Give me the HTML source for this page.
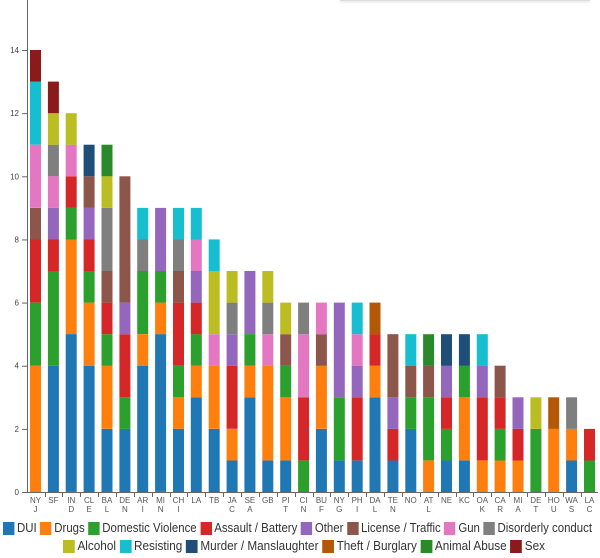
<!DOCTYPE html>
<html><head><meta charset="utf-8"><style>
html,body{margin:0;padding:0;background:#fff;width:600px;height:558px;overflow:hidden;font-family:"Liberation Sans",Arial,sans-serif}
.row{position:absolute;display:inline-flex;font-size:13px;color:#333;line-height:16px;white-space:nowrap;transform-origin:0 0}
.it{display:flex;align-items:center;margin-right:4px}
.sw{width:13px;height:13px;margin-right:3px}
</style></head><body>
<div style="position:absolute;left:340px;top:0;width:250px;height:1px;background:#ddd;box-shadow:0 1px 2px #ccc"></div>
<svg id="c" width="600" height="518" style="position:absolute;left:0;top:0"></svg>
<div class="row" id="r1" style="top:520px;left:3px"></div>
<div class="row" id="r2" style="top:538px;left:63px"></div>
<script>
var cats=[["DUI","#1f77b4"],["Drugs","#ff7f0e"],["Domestic Violence","#2ca02c"],["Assault / Battery","#d62728"],["Other","#9467bd"],["License / Traffic","#8c564b"],["Gun","#e377c2"],["Disorderly conduct","#7f7f7f"],["Alcohol","#bcbd22"],["Resisting","#17becf"],["Murder / Manslaughter","#1f4e79"],["Theft / Burglary","#b35806"],["Animal Abuse","#2a8a2a"],["Sex","#8b1a1a"]];
var d=[
["NY","J",[0,4,2,2,0,1,2,0,0,2,0,0,0,1]],
["SF","",[4,0,3,1,1,0,1,1,1,0,0,0,0,1]],
["IN","D",[5,3,1,1,0,0,1,0,1,0,0,0,0,0]],
["CL","E",[4,2,1,1,1,1,0,0,0,0,1,0,0,0]],
["BA","L",[2,2,1,1,0,1,0,2,1,0,0,0,1,0]],
["DE","N",[2,0,1,2,1,4,0,0,0,0,0,0,0,0]],
["AR","I",[4,1,2,0,0,0,0,1,0,1,0,0,0,0]],
["MI","N",[5,1,1,0,2,0,0,0,0,0,0,0,0,0]],
["CH","I",[2,1,1,2,0,1,0,1,0,1,0,0,0,0]],
["LA","",[3,1,1,1,1,0,1,0,0,1,0,0,0,0]],
["TB","",[2,2,0,0,0,0,1,0,2,1,0,0,0,0]],
["JA","C",[1,1,0,2,1,0,0,1,1,0,0,0,0,0]],
["SE","A",[3,1,1,0,2,0,0,0,0,0,0,0,0,0]],
["GB","",[1,3,0,0,0,0,1,1,1,0,0,0,0,0]],
["PI","T",[1,2,1,0,0,1,0,0,1,0,0,0,0,0]],
["CI","N",[0,0,1,2,0,0,2,1,0,0,0,0,0,0]],
["BU","F",[2,2,0,0,0,1,1,0,0,0,0,0,0,0]],
["NY","G",[1,0,2,0,3,0,0,0,0,0,0,0,0,0]],
["PH","I",[1,0,0,2,1,0,1,0,0,1,0,0,0,0]],
["DA","L",[3,1,0,1,0,0,0,0,0,0,0,1,0,0]],
["TE","N",[1,0,0,1,1,2,0,0,0,0,0,0,0,0]],
["NO","",[2,0,1,0,0,1,0,0,0,1,0,0,0,0]],
["AT","L",[0,1,2,0,0,1,0,0,0,0,0,0,1,0]],
["NE","",[1,0,1,1,1,0,0,0,0,0,1,0,0,0]],
["KC","",[1,2,1,0,0,0,0,0,0,0,1,0,0,0]],
["OA","K",[0,1,0,2,1,0,0,0,0,1,0,0,0,0]],
["CA","R",[0,1,1,1,0,1,0,0,0,0,0,0,0,0]],
["MI","A",[0,1,0,1,1,0,0,0,0,0,0,0,0,0]],
["DE","T",[0,0,2,0,0,0,0,0,1,0,0,0,0,0]],
["HO","U",[0,2,0,0,0,0,0,0,0,0,0,1,0,0]],
["WA","S",[1,1,0,0,0,0,0,1,0,0,0,0,0,0]],
["LA","C",[0,0,1,1,0,0,0,0,0,0,0,0,0,0]]];
var y0=492,u=31.57,s='';
s+='<line x1="27.5" y1="0" x2="27.5" y2="'+(y0+0.5)+'" stroke="#666"/>';
s+='<line x1="27" y1="'+(y0+0.5)+'" x2="598" y2="'+(y0+0.5)+'" stroke="#666"/>';
for(var t=0;t<=14;t+=2){var y=y0-t*u;s+='<line x1="22" x2="27" y1="'+(y+0.5)+'" y2="'+(y+0.5)+'" stroke="#666"/><text x="19" y="'+(y+3)+'" font-size="8" fill="#444" text-anchor="end">'+t+'</text>';}
d.forEach(function(b,i){var x=30+i*17.87,cy=y0;
b[2].forEach(function(v,k){if(!v)return;var h=v*u;s+='<rect x="'+x.toFixed(1)+'" y="'+(cy-h).toFixed(1)+'" width="11" height="'+h.toFixed(1)+'" fill="'+cats[k][1]+'"/>';cy-=h;});
var cx=x+5.5;s+='<text x="'+cx+'" y="503" font-size="8" fill="#555" text-anchor="middle">'+b[0]+'</text><text x="'+cx+'" y="512" font-size="8" fill="#555" text-anchor="middle">'+b[1]+'</text>';
var tx=Math.round(x+14.5)+0.5;if(i<31)s+='<line x1="'+tx+'" x2="'+tx+'" y1="'+y0+'" y2="'+(y0+5)+'" stroke="#666"/>';
});
document.getElementById('c').innerHTML=s;
function L(a){var o='';a.forEach(function(c){o+='<div class="it"><div class="sw" style="background:'+c[1]+'"></div>'+c[0]+'</div>';});return o;}
function fit(id,a,w){var e=document.getElementById(id);e.innerHTML=L(a);var cw=e.getBoundingClientRect().width-4;e.style.transform='scaleX('+(w/cw)+')';}
fit('r1',cats.slice(0,8),589);
fit('r2',cats.slice(8),482);
</script>
</body></html>
